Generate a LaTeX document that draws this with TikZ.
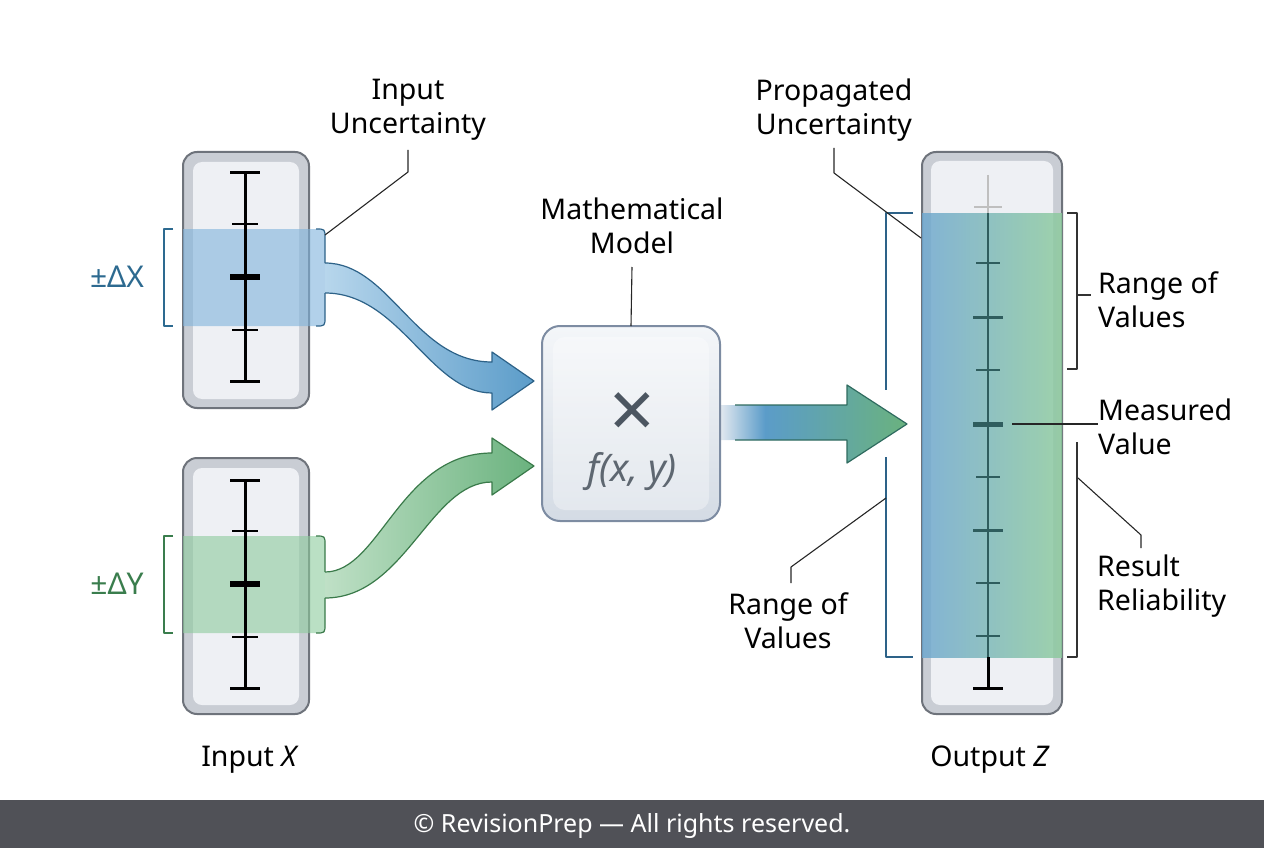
\documentclass[tikz,border=0pt]{standalone}
\usepackage{fontspec}
\setmainfont{Noto Sans}
\definecolor{frameC}{HTML}{6E737B}
\definecolor{frameF}{HTML}{C9CDD4}
\definecolor{innerF}{HTML}{EEF0F4}
\definecolor{blueT}{HTML}{2D6A90}
\definecolor{blueB}{HTML}{7FB3DC}
\definecolor{blueL}{HTML}{B7D6EC}
\definecolor{blueD}{HTML}{5B9CC9}
\definecolor{blueO}{HTML}{2D6288}
\definecolor{greenT}{HTML}{3A7D4D}
\definecolor{greenB}{HTML}{8CCB9C}
\definecolor{greenL}{HTML}{BFE0C6}
\definecolor{greenD}{HTML}{6AB27E}
\definecolor{greenO}{HTML}{3A7A4A}
\definecolor{tealO}{HTML}{2F6B5F}
\definecolor{tealT}{HTML}{2F5D5E}
\definecolor{modelC}{HTML}{7D8CA2}
\definecolor{symC}{HTML}{4C5661}
\definecolor{fadeC}{HTML}{E3E9F0}
\definecolor{footC}{HTML}{505157}
\pgfdeclarehorizontalshading{outarrow}{100bp}{color(0bp)=(fadeC); color(25bp)=(fadeC);
  color(37bp)=(blueD); color(75bp)=(greenD); color(100bp)=(greenD)}
\begin{document}
\begin{tikzpicture}[
  x = 1pt, y = -1pt,
  casing/.style = {
    draw = frameC,
    line width = 2pt,
    fill = frameF,
    rounded corners = 14pt,
    inner sep = 0pt,
    outer sep = 0pt
  },
  casingin/.style = {
    fill = innerF,
    rounded corners = 9pt,
    inner sep = 0pt
  },
  lbl/.style = {
    font = \fontsize{28.5}{34}\selectfont,
    align = center,
    inner sep = 0pt
  },
  lblleft/.style = {
    lbl,
    align = left,
    anchor = west
  },
  lead/.style = {
    draw = black!85,
    line width = 1.1pt
  },
  bar/.style = {
    line width = 3pt
  },
  minortick/.style = {
    line width = 1.6pt
  },
  every path/.style = {
    line join = round
  }
]
  \useasboundingbox (0,0) rectangle (1264,848);

  % input X
  \node[casing, minimum width = 126pt, minimum height = 256pt] (boxX) at (246,280) {};
  \node[casingin, minimum width = 106pt, minimum height = 237pt] (inX) at (246,280.5) {};
  \fill[blueB, fill opacity = 0.6] (183,229) -- (316,229) .. controls (325,229) .. (325,238)
    -- (325,317) .. controls (325,326) .. (316,326) -- (183,326) -- cycle;
  \draw[bar] (245,173) -- (245,381);
  \foreach \y in {173, 381} \draw[bar] (230,\y) -- (260,\y);
  \foreach \y in {224, 330} \draw[minortick] (232,\y) -- (258,\y);
  \draw[line width = 5.5pt] (230,277) -- (260,277);
  \draw[blueT, line width = 1.5pt] (173,229) -- (164,229) -- (164,326) -- (173,326);
  \node[lbl, text = blueT, font = \fontsize{30}{34}\selectfont] (dX) at (117,277) {±ΔX};

  % input Y
  \node[casing, minimum width = 126pt, minimum height = 256pt] (boxY) at (246,586) {};
  \node[casingin, minimum width = 106pt, minimum height = 237pt] (inY) at (246,586.5) {};
  \fill[greenB, fill opacity = 0.6] (183,536) -- (316,536) .. controls (325,536) .. (325,545)
    -- (325,624) .. controls (325,633) .. (316,633) -- (183,633) -- cycle;
  \draw[bar] (245,480) -- (245,688);
  \foreach \y in {480, 688} \draw[bar] (230,\y) -- (260,\y);
  \foreach \y in {531, 637} \draw[minortick] (232,\y) -- (258,\y);
  \draw[line width = 5.5pt] (230,584) -- (260,584);
  \draw[greenT, line width = 1.5pt] (173,536) -- (164,536) -- (164,633) -- (173,633);
  \node[lbl, text = greenT, font = \fontsize{30}{34}\selectfont] (dY) at (117,584) {±ΔY};

  \node[lbl] (inLbl) at (250,760) {Input \textit{X}};

  % arrows into the model
  \draw[blueO, line width = 1.2pt] (316,229) .. controls (325,229) .. (325,238) -- (325,263);
  \draw[blueO, line width = 1.2pt] (325,293) -- (325,317) .. controls (325,326) .. (316,326);
  \path[draw = blueO, line width = 1.2pt, left color = blueL, right color = blueD]
    (325,263) .. controls (390,263) and (415,362) .. (492,362) -- (492,352) -- (534,381)
    -- (492,410) -- (492,393) .. controls (430,393) and (400,293) .. (325,293);
  \draw[greenO, line width = 1.2pt] (316,536) .. controls (325,536) .. (325,545) -- (325,572);
  \draw[greenO, line width = 1.2pt] (325,598) -- (325,624) .. controls (325,633) .. (316,633);
  \path[draw = greenO, line width = 1.2pt, left color = greenL, right color = greenD]
    (325,572) .. controls (380,572) and (400,453) .. (492,453) -- (492,438) -- (534,466)
    -- (492,495) -- (492,482) .. controls (430,482) and (405,598) .. (325,598);

  % model
  \shade[shading = outarrow] (720,405) -- (847,405) -- (847,385) -- (907,424) -- (847,463)
    -- (847,440) -- (720,440) -- cycle;
  \draw[tealO, line width = 1.2pt] (735,405) -- (847,405) -- (847,385) -- (907,424)
    -- (847,463) -- (847,440) -- (735,440);
  \node[casing, draw = modelC, top color = white!60!fadeC, bottom color = fadeC!85!modelC,
    rounded corners = 18pt, minimum width = 178pt, minimum height = 195pt] (model) at (631,423.5) {};
  \node[fill = white, fill opacity = 0.35, rounded corners = 12pt, inner sep = 0pt,
    minimum width = 156pt, minimum height = 173pt] (modelIn) at (631,423.5) {};
  \node[inner sep = 0pt, text = symC, font = \fontsize{80}{80}\bfseries\selectfont] (times) at (632,416) {×};
  \node[inner sep = 0pt, text = symC!90!white, font = \fontsize{38}{38}\itshape\selectfont] (fxy) at (632,472) {f(x, y)};
  \node[lbl] (modelLbl) at (632,226) {Mathematical\\Model};
  \coordinate (modelLead) at (632,267);
  \draw[lead] (modelLead) -- (model.north);

  % output Z
  \node[casing, minimum width = 140pt, minimum height = 562pt] (boxZ) at (992,433) {};
  \node[casingin, minimum width = 122pt, minimum height = 544pt] (inZ) at (992,433) {};
  \shade[left color = blueD!90!white, right color = greenB, opacity = 0.82] (922,213) rectangle (1062,657);
  \draw[line width = 2.5pt, black!25] (988,175) -- (988,213);
  \draw[line width = 1.5pt, black!25] (974,207) -- (1002,207);
  \draw[line width = 2.5pt, tealT] (988,213) -- (988,657);
  \draw[bar] (988,657) -- (988,688);
  \draw[bar] (973,688) -- (1003,688);
  \foreach \y in {263, 370, 477, 583, 636} \draw[minortick, tealT] (976,\y) -- (1000,\y);
  \foreach \y in {317, 530} \draw[line width = 3pt, tealT] (973,\y) -- (1003,\y);
  \draw[line width = 5pt, tealT] (973,424) -- (1003,424);
  \node[lbl] (outLbl) at (990,760) {Output \textit{Z}};

  % brackets and callouts
  \draw[blueO, line width = 1.5pt] (913,213) -- (886,213) -- (886,390);
  \draw[blueO, line width = 1.5pt] (886,457) -- (886,657) -- (913,657);
  \draw[black!80, line width = 1.5pt] (1067,213) -- (1077,213) -- (1077,369) -- (1067,369);
  \draw[black!80, line width = 1.5pt] (1077,295) -- (1091,295);
  \draw[black!80, line width = 1.5pt] (1077,442) -- (1077,657) -- (1067,657);

  \node[lbl] (iuLbl) at (408,110) {Input\\Uncertainty};
  \coordinate (iuTop) at (408,150);
  \coordinate (iuBend) at (408,172);
  \coordinate (iuEnd) at (325,235);
  \draw[lead] (iuTop) -- (iuBend) -- (iuEnd);

  \node[lbl] (puLbl) at (834,110) {Propagated\\Uncertainty};
  \coordinate (puTop) at (834,148);
  \coordinate (puBend) at (834,173);
  \coordinate (puEnd) at (921,238);
  \draw[lead] (puTop) -- (puBend) -- (puEnd);

  \node[lbl] (rangeL) at (788,621) {Range of\\Values};
  \coordinate (rlTop) at (791,583);
  \coordinate (rlBend) at (791,567);
  \coordinate (rlEnd) at (886,498);
  \draw[lead] (rlTop) -- (rlBend) -- (rlEnd);

  \node[lblleft] (rangeR) at (1098,300) {Range of\\Values};
  \node[lblleft] (measLbl) at (1098,427) {Measured\\Value};
  \coordinate (measTick) at (1012,424);
  \draw[lead] (measTick) -- (measLbl.west |- measTick);

  \node[lblleft] (relLbl) at (1097,586) {Result\\Reliability};
  \coordinate (relStart) at (1078,478);
  \coordinate (relBend) at (1141,535);
  \coordinate (relEnd) at (1141,548);
  \draw[lead] (relStart) -- (relBend) -- (relEnd);

  % footer
  \fill[footC] (0,800) rectangle (1264,848);
  \node[inner sep = 0pt, text = white, font = \fontsize{25}{25}\selectfont] (foot) at (632,826)
    {© RevisionPrep — All rights reserved.};
\end{tikzpicture}
\end{document}
